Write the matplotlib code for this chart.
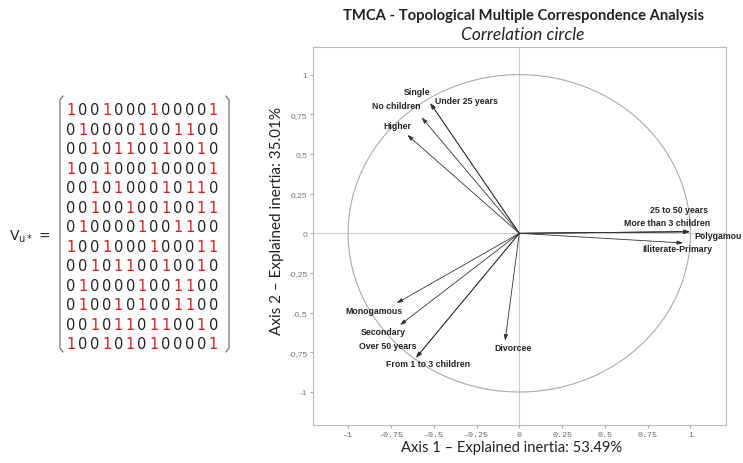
import matplotlib.pyplot as plt
from matplotlib.patches import Circle

# matrix V_u* (13 x 13)
matrix_rows = [
    "1001000100001",
    "0100001001100",
    "0010110010010",
    "1001000100001",
    "0010100010110",
    "0010010010011",
    "0100001001100",
    "1001000100011",
    "0010110010010",
    "0100001001100",
    "0100101001100",
    "0010110110010",
    "1001010100001",
]

# categories and coordinates on the correlation circle
categories = ["Single", "Under 25 years", "No children", "Higher",
              "Monogamous", "Secondary", "Over 50 years", "From 1 to 3 children",
              "Divorcee", "25 to 50 years", "More than 3 children", "Polygamou",
              "Illiterate-Primary"]
axis1 = [-0.52, -0.52, -0.57, -0.654, -0.716, -0.697, -0.603, -0.603,
         -0.083, 0.996, 0.996, 0.996, 0.957]
axis2 = [0.82, 0.82, 0.73, 0.62, -0.44, -0.578, -0.784, -0.784,
         -0.677, 0.01, 0.01, 0.01, -0.061]

# label places (data coords)
label_x = [-0.595, -0.307, -0.716, -0.71, -0.848, -0.794, -0.771, -0.531,
           -0.039, 0.932, 0.864, 1.162, 0.922]
label_y = [0.892, 0.838, 0.804, 0.678, -0.488, -0.618, -0.708, -0.819,
           -0.718, 0.149, 0.069, -0.015, -0.095]

xticks = [-1, -0.75, -0.5, -0.25, 0, 0.25, 0.5, 0.75, 1]
yticks = [-1, -0.75, -0.5, -0.25, 0, 0.25, 0.5, 0.75, 1]

fig = plt.figure(figsize=(7.43, 4.64), dpi=100)

# ---- left side: the matrix ----
ov = fig.add_axes([0, 0, 1, 1])
ov.set_xlim(0, 743)
ov.set_ylim(464, 0)
ov.axis('off')

x0, dx = 71, 11.86
y0, dy = 110.7, 19.5
for i, row in enumerate(matrix_rows):
    for j, ch in enumerate(row):
        ov.text(x0 + j * dx, y0 + i * dy, ch, ha='center', va='center',
                fontsize=10.5, family='DejaVu Sans',
                color='#d42020' if ch == '1' else '#222222')

# brackets
top, bot = 97, 353
for xb, sgn in [(60, 1), (229, -1)]:
    ov.plot([xb + sgn * 3, xb, xb, xb + sgn * 3], [top, top + 4, bot - 4, bot],
            color='#666666', lw=0.8)

ov.text(9, 237, r"V$_{\mathregular{u*}}$ =", ha='left', va='center',
        fontsize=10, family='DejaVu Sans', color='#222222')

# ---- right side: correlation circle ----
ax = fig.add_axes([0.4213, 0.0819, 0.5557, 0.8153])
ax.set_xlim(-1.205, 1.207)
ax.set_ylim(-1.208, 1.176)

ax.axhline(0, color='#cccccc', lw=0.8, zorder=0)
ax.axvline(0, color='#cccccc', lw=0.8, zorder=0)
ax.add_patch(Circle((0, 0), 1, fill=False, edgecolor='#aaaaaa', lw=0.8))

for name, x, y, lx, ly in zip(categories, axis1, axis2, label_x, label_y):
    ax.annotate("", xy=(x, y), xytext=(0, 0),
                arrowprops=dict(arrowstyle='-|>,head_length=0.35,head_width=0.12',
                                color='#333333', lw=0.6, shrinkA=0, shrinkB=0))
    ax.text(lx, ly, name, ha='center', va='center', fontsize=6.3,
            fontweight='bold', family='Liberation Sans', color='#222222')

ax.set_xticks(xticks)
ax.set_xticklabels([f"{t:g}" for t in xticks], family='Liberation Mono',
                   fontsize=6, color='#666666')
ax.set_yticks(yticks)
ax.set_yticklabels([f"{t:g}".replace('.', ',') for t in yticks],
                   family='Liberation Sans', fontsize=6, color='#777777')
ax.tick_params(length=2, color='#aaaaaa', pad=2)
for sp in ax.spines.values():
    sp.set_color('#bbbbbb')
    sp.set_linewidth(0.8)

ax.set_xlabel("Axis 1 \u2013 Explained inertia: 53.49%", fontsize=10.6,
              family='Lato', color='#222222')
ax.set_ylabel("Axis 2 \u2013 Explained inertia: 35.01%", fontsize=11,
              family='Lato', color='#222222')
ax.xaxis.set_label_coords(0.482, -0.058)
ax.yaxis.set_label_coords(-0.087, 0.542)
ax.xaxis.label.set_va('center')
ax.yaxis.label.set_va('center')

fig.text(0.704, 0.966, "TMCA - Topological Multiple Correspondence Analysis",
         ha='center', va='center', fontsize=10.6, fontweight='bold',
         family='Lato', color='#222222')
fig.text(0.704, 0.925, "Correlation circle", ha='center', va='center',
         fontsize=12.5, style='italic', family='Lato', color='#222222')

fig.savefig("out.png", dpi=100)
